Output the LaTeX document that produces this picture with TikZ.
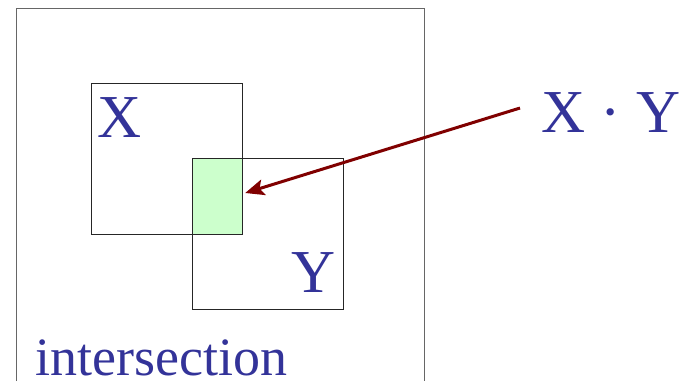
\documentclass[tikz,border=0pt]{standalone}
\usepackage{fontspec}
\setmainfont{Liberation Serif}
\usetikzlibrary{arrows.meta}
\definecolor{setblue}{HTML}{333399}
\definecolor{meetgreen}{HTML}{CCFFCC}
\definecolor{arrowred}{HTML}{800000}

\begin{document}
\begin{tikzpicture}[x=1pt,y=-1pt,
    setbox/.style={draw=black!85,line width=0.8pt,inner sep=0pt,
      minimum width=151pt,minimum height=151pt},
    setlabel/.style={text=setblue,font=\fontsize{61}{72}\selectfont,
      inner sep=0pt,anchor=base west}]
  \useasboundingbox (0,0) rectangle (686,381);
  % universe
  \coordinate (U1) at (16,381);
  \coordinate (U2) at (16,8);
  \coordinate (U3) at (424,8);
  \coordinate (U4) at (424,381);
  \draw[black!60,line width=0.8pt] (U1) -- (U2) -- (U3) -- (U4);
  % overlap
  \node[fill=meetgreen,inner sep=0pt,minimum width=50pt,minimum height=76pt] (meet) at (217,197) {};
  \node[setbox] (X) at (166.5,159) {};
  \node[setbox] (Y) at (267.5,234) {};
  \node[setlabel] (Xlab) at (97,137) {X};
  \node[setlabel] (Ylab) at (291,292) {Y};
  \node[setlabel] (prod) at (541,132) {X · Y};
  \node[setlabel,font=\fontsize{54}{64}\selectfont] (name) at (35,375) {intersection};
  \draw[arrowred,line width=3pt,-{Stealth[length=19pt,width=16pt,inset=4pt]}]
    ([xshift=-21pt,yshift=4pt]prod.west) to ([xshift=3pt,yshift=4pt]meet.east);
\end{tikzpicture}
\end{document}
